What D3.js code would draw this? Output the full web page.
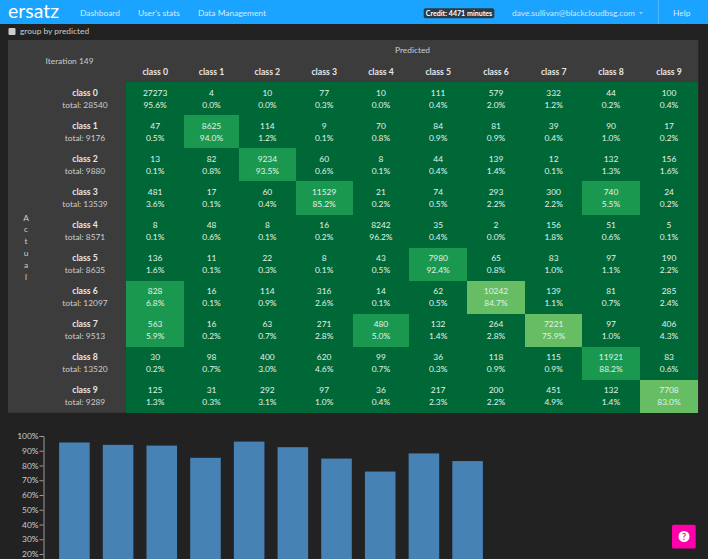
<!DOCTYPE html>
<html>
<head>
<meta charset="utf-8">
<script src="https://cdn.jsdelivr.net/npm/d3@7"></script>
<style>
  html, body { margin: 0; padding: 0; background: #222; overflow: hidden; }
  svg { display: block; font-family: Lato, "Open Sans", sans-serif; }
  .axis text { fill: #ccc; font-size: 8.4px; font-family: Lato, sans-serif; }
  .axis line, .axis path { stroke: #999; }
</style>
</head>
<body>
<svg id="chart" width="708" height="559"></svg>
<script>
const classes = ["class 0", "class 1", "class 2", "class 3", "class 4", "class 5", "class 6", "class 7", "class 8", "class 9"];
const totals = [28540, 9176, 9880, 13539, 8571, 8635, 12097, 9513, 13520, 9289];
const counts = [
    [27273, 4, 10, 77, 10, 111, 579, 332, 44, 100],
    [47, 8625, 114, 9, 70, 84, 81, 39, 90, 17],
    [13, 82, 9234, 60, 8, 44, 139, 12, 132, 156],
    [481, 17, 60, 11529, 21, 74, 293, 300, 740, 24],
    [8, 48, 8, 16, 8242, 35, 2, 156, 51, 5],
    [136, 11, 22, 8, 43, 7980, 65, 83, 97, 190],
    [828, 16, 114, 316, 14, 62, 10242, 139, 81, 285],
    [563, 16, 63, 271, 480, 132, 264, 7221, 97, 406],
    [30, 98, 400, 620, 99, 36, 118, 115, 11921, 83],
    [125, 31, 292, 97, 36, 217, 200, 451, 132, 7708]
];
const percents = [
    [95.6, 0.0, 0.0, 0.3, 0.0, 0.4, 2.0, 1.2, 0.2, 0.4],
    [0.5, 94.0, 1.2, 0.1, 0.8, 0.9, 0.9, 0.4, 1.0, 0.2],
    [0.1, 0.8, 93.5, 0.6, 0.1, 0.4, 1.4, 0.1, 1.3, 1.6],
    [3.6, 0.1, 0.4, 85.2, 0.2, 0.5, 2.2, 2.2, 5.5, 0.2],
    [0.1, 0.6, 0.1, 0.2, 96.2, 0.4, 0.0, 1.8, 0.6, 0.1],
    [1.6, 0.1, 0.3, 0.1, 0.5, 92.4, 0.8, 1.0, 1.1, 2.2],
    [6.8, 0.1, 0.9, 2.6, 0.1, 0.5, 84.7, 1.1, 0.7, 2.4],
    [5.9, 0.2, 0.7, 2.8, 5.0, 1.4, 2.8, 75.9, 1.0, 4.3],
    [0.2, 0.7, 3.0, 4.6, 0.7, 0.3, 0.9, 0.9, 88.2, 0.6],
    [1.3, 0.3, 3.1, 1.0, 0.4, 2.3, 2.2, 4.9, 1.4, 83.0]
];
const accuracy = [95.6, 94.0, 93.5, 85.2, 96.2, 92.4, 84.7, 75.9, 88.2, 83.0];
const yTicks = [20, 30, 40, 50, 60, 70, 80, 90, 100];
const navLinks = ["Dashboard", "User's stats", "Data Management"];

const svg = d3.select("#chart");
const textSize = 8.4;

// the original is an html table, so columns are not quite even
const colEdges = [126.3, 184, 239, 295.7, 352.6, 409.3, 467, 525, 582.3, 639.7, 698.3];
const getX = d3.scaleOrdinal().domain(classes).range(colEdges);
const colWidth = (c) => colEdges[classes.indexOf(c) + 1] - getX(c);
const getY = d3.scaleBand().domain(classes).range([82.4, 412.7]);

// colour goes by error rate: off the diagonal the share itself, on it whatever is missing from 100
const getColor = d3.scaleThreshold().domain([5, 15]).range(["#006837", "#1a9850", "#66bd63"]);

// ---- nav bar
svg.append("rect").attr("width", 708).attr("height", 24).attr("fill", "#1aa3ff");
svg.append("rect").attr("x", 658).attr("width", 1).attr("height", 24).attr("fill", "#4db8ff");

const addText = (x, y, str, size, fill, anchor, weight) => svg.append("text")
    .attr("x", x).attr("y", y).attr("dy", "0.35em")
    .attr("font-size", size).attr("fill", fill)
    .attr("text-anchor", anchor || "start")
    .attr("font-weight", weight || "normal")
    .text(str);

addText(8, 11.8, "ersatz", 18.5, "#fff")
    .attr("textLength", 51).attr("lengthAdjust", "spacingAndGlyphs");
const navX = [80, 138, 198];
navLinks.forEach((d, i) => addText(navX[i], 13, d, textSize, "#d5ecff"));

svg.append("rect").attr("x", 423.7).attr("y", 8.3).attr("width", 70.6).attr("height", 10)
    .attr("rx", 2).attr("fill", "#2b3a44");
addText(459, 13.5, "Credit: 4471 minutes", 7.1, "#fff", "middle", "bold");
addText(512, 13, "dave.sullivan@blackcloudbsg.com", textSize, "#cfe9ff");
svg.append("path").attr("d", d3.line()([[639, 12], [643, 12], [641, 14.5]])).attr("fill", "#8cccff");
addText(673, 13, "Help", textSize, "#d5ecff");

// ---- toolbar
svg.append("rect").attr("x", 8.5).attr("y", 28).attr("width", 7).attr("height", 7)
    .attr("rx", 1).attr("fill", "#ccc");
addText(20, 31, "group by predicted", textSize, "#ccc");

// ---- confusion matrix
svg.append("rect").attr("x", 8).attr("y", 40).attr("width", 690.3).attr("height", 372.7).attr("fill", "#3c3c3c");
addText(45.5, 61, "Iteration 149", textSize, "#ccc");
addText(412.5, 50.5, "Predicted", textSize, "#ccc", "middle");

"Actual".split("").forEach((ch, i) => {
    addText(26, 217.7 + i * 11.8, ch, textSize, "#ccc", "middle");
});

svg.append("g").selectAll("text").data(classes).join("text")
    .attr("x", d => getX(d) + colWidth(d) / 2)
    .attr("y", 71.5).attr("dy", "0.35em")
    .attr("text-anchor", "middle").attr("font-size", 8.7).attr("font-weight", "bold").attr("fill", "#e6e6e6")
    .text(d => d);

const rows = svg.append("g").selectAll("g").data(classes).join("g")
    .attr("transform", d => `translate(0,${getY(d)})`);

rows.append("text")
    .attr("x", 85).attr("y", getY.bandwidth() / 2 - 6).attr("dy", "0.35em")
    .attr("text-anchor", "middle").attr("font-size", 8.7).attr("font-weight", "bold").attr("fill", "#e6e6e6")
    .text(d => d);
rows.append("text")
    .attr("x", 85).attr("y", getY.bandwidth() / 2 + 6).attr("dy", "0.35em")
    .attr("text-anchor", "middle").attr("font-size", textSize).attr("fill", "#ccc")
    .text((d, i) => "total: " + totals[i]);

const cells = rows.selectAll("g").data((d, r) => classes.map((c, k) => ({
    col: c,
    count: counts[r][k],
    pct: percents[r][k],
    diagonal: r === k
}))).join("g").attr("transform", d => `translate(${getX(d.col)},0)`);

// crispEdges or the fractional bands leave seams between cells
cells.append("rect")
    .attr("width", d => colWidth(d.col))
    .attr("height", getY.bandwidth())
    .attr("shape-rendering", "crispEdges")
    .attr("fill", d => getColor(d.diagonal ? 100 - d.pct : d.pct));
cells.append("text")
    .attr("x", d => colWidth(d.col) / 2).attr("y", getY.bandwidth() / 2 - 6).attr("dy", "0.35em")
    .attr("text-anchor", "middle").attr("font-size", textSize).attr("fill", "#e2f2e8")
    .text(d => d.count);
cells.append("text")
    .attr("x", d => colWidth(d.col) / 2).attr("y", getY.bandwidth() / 2 + 6).attr("dy", "0.35em")
    .attr("text-anchor", "middle").attr("font-size", textSize).attr("fill", "#e2f2e8")
    .text(d => d3.format(".1f")(d.pct) + "%");

// ---- accuracy bars, the bottom of the chart runs past the window
const barX = d3.scaleBand().domain(classes).range([46, 496]).padding(0.3);
const barY = d3.scaleLinear().domain([0, 100]).range([583.5, 436]);

svg.append("g").selectAll("rect").data(accuracy).join("rect")
    .attr("x", (d, i) => barX(classes[i]))
    .attr("y", d => barY(d))
    .attr("width", barX.bandwidth())
    .attr("height", d => barY(0) - barY(d))
    .attr("fill", "steelblue");

svg.append("g").attr("class", "axis")
    .attr("transform", "translate(43.5,0)")
    .call(d3.axisLeft(barY).tickValues(yTicks).tickSize(4).tickPadding(1).tickFormat(d => d + "%"));

// ---- help button
svg.append("rect").attr("x", 672).attr("y", 524.7).attr("width", 23.7).attr("height", 23.7)
    .attr("rx", 1.5).attr("fill", "#f0a");
svg.append("circle").attr("cx", 684).attr("cy", 536.5).attr("r", 5.5).attr("fill", "#fff");
addText(684, 536.7, "?", 9, "#f0a", "middle", "bold");
</script>
</body>
</html>
